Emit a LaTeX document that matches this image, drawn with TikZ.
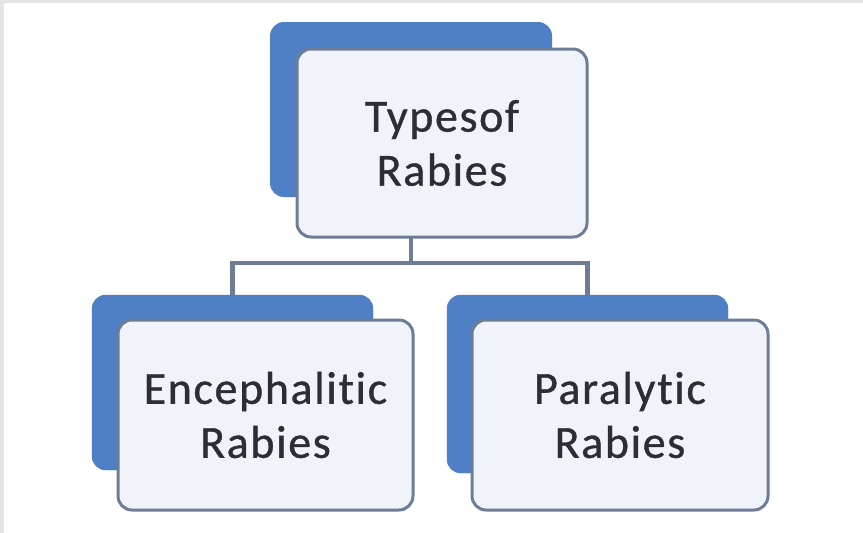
\documentclass[tikz,border=0pt]{standalone}
\usepackage{fontspec}
\setmainfont[Ligatures=NoCommon,LetterSpace=3.5,FakeBold=0.8]{Carlito}
\definecolor{backblue}{RGB}{79,127,196}
\definecolor{frameline}{RGB}{110,125,150}
\definecolor{cardfill}{RGB}{240,244,250}
\definecolor{inktext}{RGB}{45,45,50}
\definecolor{edgegray}{RGB}{228,228,228}
\begin{document}
\begin{tikzpicture}[x=1pt,y=-1pt,
  backcard/.style={draw=none,fill=backblue,rounded corners=14pt,inner sep=0pt},
  frontcard/.style={draw=frameline,line width=3pt,fill=cardfill,rounded corners=14pt,
    inner sep=0pt,align=center,text=inktext,
    font=\fontsize{46}{54}\selectfont},
  link/.style={draw=frameline,line width=4.5pt}]
  % page and its grey edges
  \useasboundingbox (0,0) rectangle (863,533);
  \fill[white] (0,0) rectangle (863,533);
  \fill[edgegray] (0,0) rectangle (4,533);
  \fill[edgegray] (0,0) rectangle (863,3);
  % back cards
  \node[backcard,minimum width=282pt,minimum height=175pt] (topback) at (411,109.5) {};
  \node[backcard,minimum width=281pt,minimum height=175pt] (leftback) at (232.5,382.5) {};
  \node[backcard,minimum width=281pt,minimum height=178pt] (rightback) at (587.5,384) {};
  % tree connector
  \coordinate (bus) at (0,263);
  \draw[link] (topback.south) -- (topback.south |- bus) -| (leftback.north);
  \draw[link] (topback.south |- bus) -| (rightback.north);
  % redraw back cards on top of the connector ends
  \fill[backblue,rounded corners=14pt] (leftback.south west) rectangle (leftback.north east);
  \fill[backblue,rounded corners=14pt] (rightback.south west) rectangle (rightback.north east);
  % front cards
  \node[frontcard,minimum width=290pt,minimum height=188pt] (top) at (442,143) {Typesof\\Rabies};
  \node[frontcard,minimum width=295pt,minimum height=190pt] (left) at (265.5,415) {Encephalitic\\Rabies};
  \node[frontcard,minimum width=296pt,minimum height=190pt] (right) at (620,415) {Paralytic\\Rabies};
\end{tikzpicture}
\end{document}
